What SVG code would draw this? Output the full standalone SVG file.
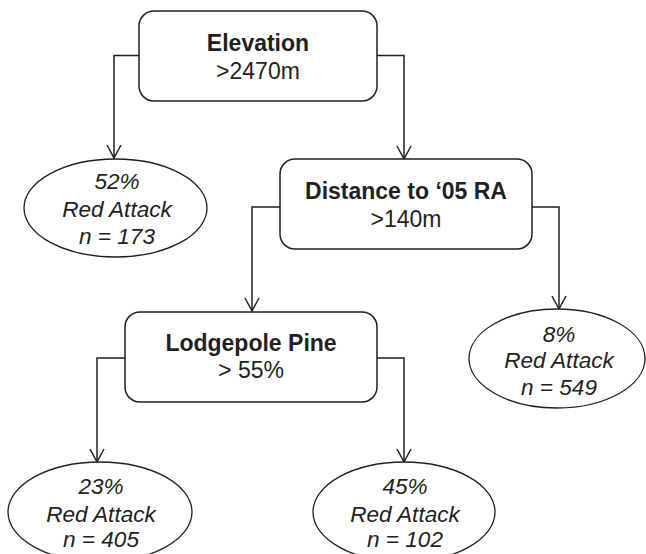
<svg xmlns="http://www.w3.org/2000/svg" width="646" height="554" viewBox="0 0 646 554">
<defs>
<style>
.box{fill:#fff;stroke:#231f20;stroke-width:1.5}
.ell{fill:#fff;stroke:#231f20;stroke-width:1.3}
.conn{fill:none;stroke:#231f20;stroke-width:1.5;marker-end:url(#arr)}
text{font-family:"Liberation Sans",Arial,sans-serif;fill:#231f20;text-anchor:middle}
.b{font-weight:bold;font-size:23px}
.r{font-size:23px}
.i{font-style:italic;font-size:22.6px}
</style>
<marker id="arr" markerUnits="userSpaceOnUse" markerWidth="30" markerHeight="30" refX="0" refY="0" orient="auto" overflow="visible">
<path d="M-13,-7 L0,0 L-13,7" fill="none" stroke="#231f20" stroke-width="1.5"/>
</marker>
</defs>
<rect width="646" height="554" fill="#fff"/>
<g id="connectors">
<path class="conn" d="M139,55.5 H114 V158"/>
<path class="conn" d="M377,55.5 H404 V159"/>
<path class="conn" d="M280,207 H252 V311"/>
<path class="conn" d="M532,207 H559 V309"/>
<path class="conn" d="M125,358 H97 V462"/>
<path class="conn" d="M377,358 H404 V462"/>
</g>
<g id="elevation">
<rect class="box" x="139" y="11" width="238" height="90" rx="15"/>
<text class="b" x="258" y="51">Elevation</text>
<text class="r" x="258" y="79">&gt;2470m</text>
</g>
<g id="leaf52">
<ellipse class="ell" cx="115.5" cy="208" rx="91.5" ry="49"/>
<text class="i" x="117" y="189">52%</text>
<text class="i" x="117" y="217">Red Attack</text>
<text class="i" x="117" y="244">n = 173</text>
</g>
<g id="distance">
<rect class="box" x="280" y="159" width="252" height="90" rx="15"/>
<text class="b" x="406" y="199">Distance to ‘05 RA</text>
<text class="r" x="406" y="227">&gt;140m</text>
</g>
<g id="leaf8">
<ellipse class="ell" cx="557" cy="358.5" rx="88" ry="49.5"/>
<text class="i" x="559" y="342">8%</text>
<text class="i" x="559" y="368">Red Attack</text>
<text class="i" x="559" y="395">n = 549</text>
</g>
<g id="lodgepole">
<rect class="box" x="125" y="312" width="252" height="90" rx="15"/>
<text class="b" x="251" y="351">Lodgepole Pine</text>
<text class="r" x="251" y="378">&gt; 55%</text>
</g>
<g id="leaf23">
<ellipse class="ell" cx="100" cy="512" rx="92" ry="50"/>
<text class="i" x="101" y="494">23%</text>
<text class="i" x="101" y="522">Red Attack</text>
<text class="i" x="101" y="547">n = 405</text>
</g>
<g id="leaf45">
<ellipse class="ell" cx="404" cy="512" rx="91" ry="50"/>
<text class="i" x="405" y="494">45%</text>
<text class="i" x="405" y="522">Red Attack</text>
<text class="i" x="405" y="547">n = 102</text>
</g>
</svg>
